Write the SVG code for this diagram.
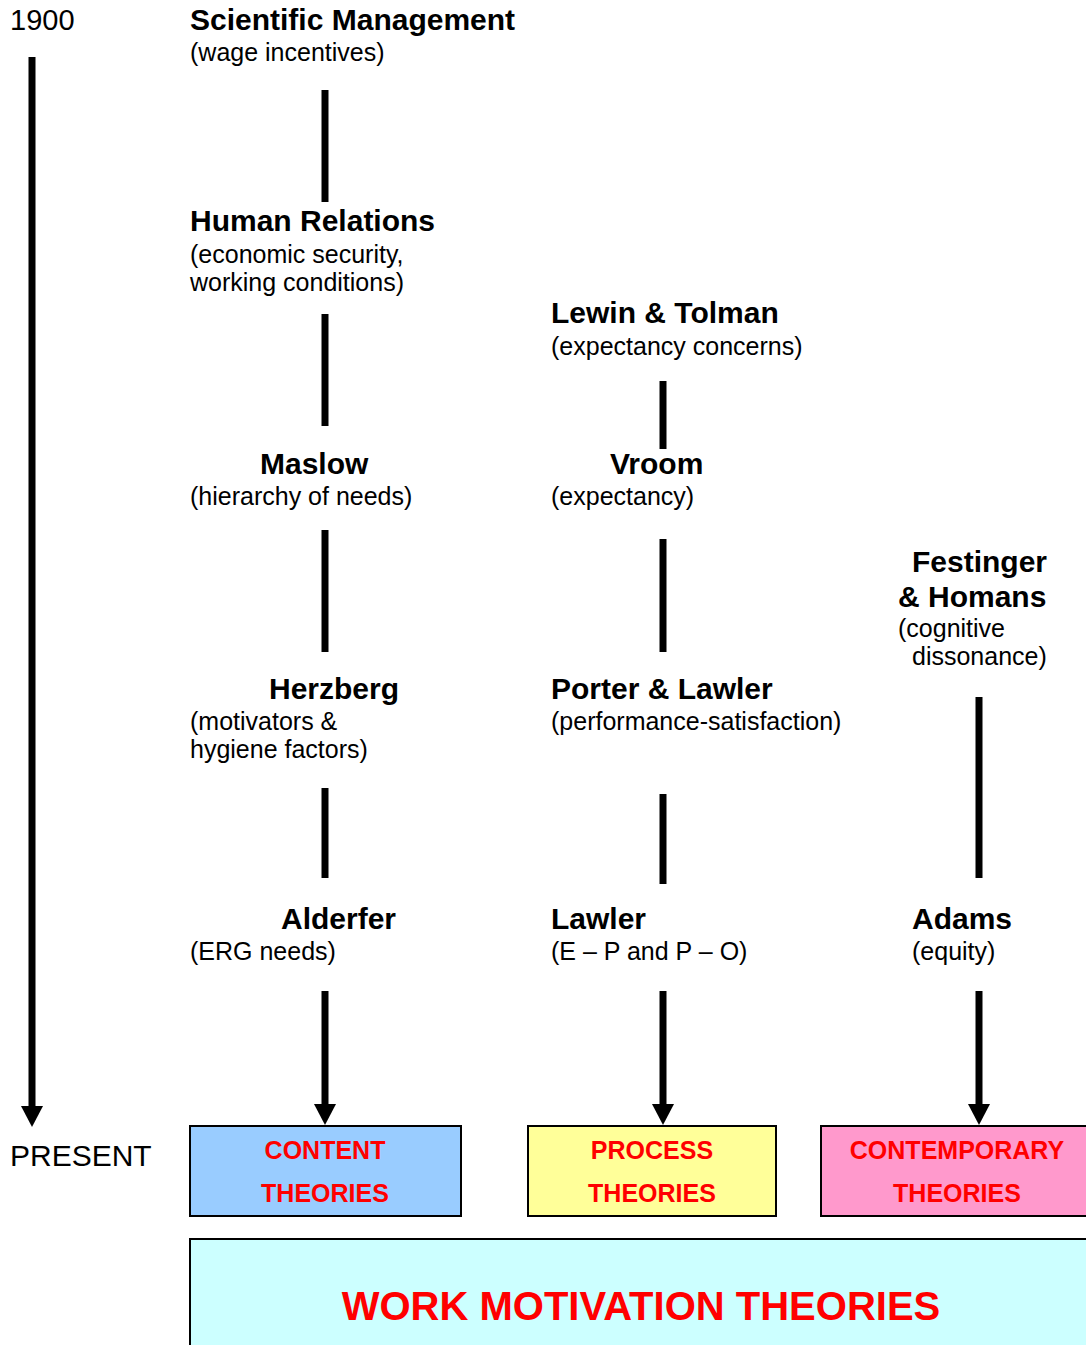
<svg xmlns="http://www.w3.org/2000/svg" width="1086" height="1345" viewBox="0 0 1086 1345">
  <style>
    text { font-family: "Liberation Sans", Arial, sans-serif; fill: #000; }
    .title { font-size: 30px; font-weight: bold; }
    .sub { font-size: 25px; }
    .time { font-size: 29px; }
    .present { font-size: 30px; }
    .cat { font-size: 25px; font-weight: bold; fill: #FF0000; text-anchor: middle; }
    .big { font-size: 40px; font-weight: bold; fill: #FF0000; text-anchor: middle; }
    .link { stroke: #000; stroke-width: 7; fill: none; }
    .box { stroke: #000; stroke-width: 2; }
  </style>
  <defs>
    <marker id="head" markerUnits="userSpaceOnUse" markerWidth="21" markerHeight="22" viewBox="0 0 21 22" refX="0" refY="11" orient="auto">
      <path d="M0,0 L21,11 L0,22 z" fill="#000"/>
    </marker>
  </defs>

  <rect width="1086" height="1345" fill="#fff"/>

  <!-- time axis -->
  <g id="timeline">
    <text class="time" x="10" y="30">1900</text>
    <text class="present" x="10" y="1166">PRESENT</text>
  </g>

  <!-- connectors -->
  <g id="connectors">
    <line class="link" x1="32" y1="57" x2="32" y2="1106" marker-end="url(#head)"/>
    <line class="link" x1="325" y1="90" x2="325" y2="202"/>
    <line class="link" x1="325" y1="314" x2="325" y2="426"/>
    <line class="link" x1="325" y1="530" x2="325" y2="652"/>
    <line class="link" x1="325" y1="788" x2="325" y2="878"/>
    <line class="link" x1="325" y1="991" x2="325" y2="1104" marker-end="url(#head)"/>
    <line class="link" x1="663" y1="381" x2="663" y2="449"/>
    <line class="link" x1="663" y1="539" x2="663" y2="652"/>
    <line class="link" x1="663" y1="794" x2="663" y2="884"/>
    <line class="link" x1="663" y1="991" x2="663" y2="1104" marker-end="url(#head)"/>
    <line class="link" x1="979" y1="697" x2="979" y2="878"/>
    <line class="link" x1="979" y1="991" x2="979" y2="1104" marker-end="url(#head)"/>
  </g>

  <!-- content theories column -->
  <g id="scientific-management">
    <text class="title" x="190" y="30">Scientific Management</text>
    <text class="sub" x="190" y="61">(wage incentives)</text>
  </g>
  <g id="human-relations">
    <text class="title" x="190" y="231">Human Relations</text>
    <text class="sub" x="190" y="263">(economic security,</text>
    <text class="sub" x="190" y="291">working conditions)</text>
  </g>
  <g id="maslow">
    <text class="title" x="260" y="474">Maslow</text>
    <text class="sub" x="190" y="505">(hierarchy of needs)</text>
  </g>
  <g id="herzberg">
    <text class="title" x="269" y="699">Herzberg</text>
    <text class="sub" x="190" y="730">(motivators &amp;</text>
    <text class="sub" x="190" y="758">hygiene factors)</text>
  </g>
  <g id="alderfer">
    <text class="title" x="281" y="929">Alderfer</text>
    <text class="sub" x="190" y="960">(ERG needs)</text>
  </g>

  <!-- process theories column -->
  <g id="lewin-tolman">
    <text class="title" x="551" y="323">Lewin &amp; Tolman</text>
    <text class="sub" x="551" y="355">(expectancy concerns)</text>
  </g>
  <g id="vroom">
    <text class="title" x="610" y="474">Vroom</text>
    <text class="sub" x="551" y="505">(expectancy)</text>
  </g>
  <g id="porter-lawler">
    <text class="title" x="551" y="699">Porter &amp; Lawler</text>
    <text class="sub" x="551" y="730">(performance-satisfaction)</text>
  </g>
  <g id="lawler">
    <text class="title" x="551" y="929">Lawler</text>
    <text class="sub" x="551" y="960">(E – P and P – O)</text>
  </g>

  <!-- contemporary theories column -->
  <g id="festinger-homans">
    <text class="title" x="912" y="572">Festinger</text>
    <text class="title" x="898" y="607">&amp; Homans</text>
    <text class="sub" x="898" y="637">(cognitive</text>
    <text class="sub" x="912" y="665">dissonance)</text>
  </g>
  <g id="adams">
    <text class="title" x="912" y="929">Adams</text>
    <text class="sub" x="912" y="960">(equity)</text>
  </g>

  <!-- category boxes -->
  <g id="content-theories">
    <rect class="box" x="190" y="1126" width="271" height="90" fill="#99CCFF"/>
    <text class="cat" x="325" y="1159">CONTENT</text>
    <text class="cat" x="325" y="1202">THEORIES</text>
  </g>
  <g id="process-theories">
    <rect class="box" x="528" y="1126" width="248" height="90" fill="#FFFF99"/>
    <text class="cat" x="652" y="1159">PROCESS</text>
    <text class="cat" x="652" y="1202">THEORIES</text>
  </g>
  <g id="contemporary-theories">
    <rect class="box" x="821" y="1126" width="272" height="90" fill="#FF99CC"/>
    <text class="cat" x="957" y="1159">CONTEMPORARY</text>
    <text class="cat" x="957" y="1202">THEORIES</text>
  </g>
  <g id="work-motivation-theories">
    <rect class="box" x="190" y="1239" width="910" height="120" fill="#CCFFFF"/>
    <text class="big" x="641" y="1320">WORK MOTIVATION THEORIES</text>
  </g>
</svg>
